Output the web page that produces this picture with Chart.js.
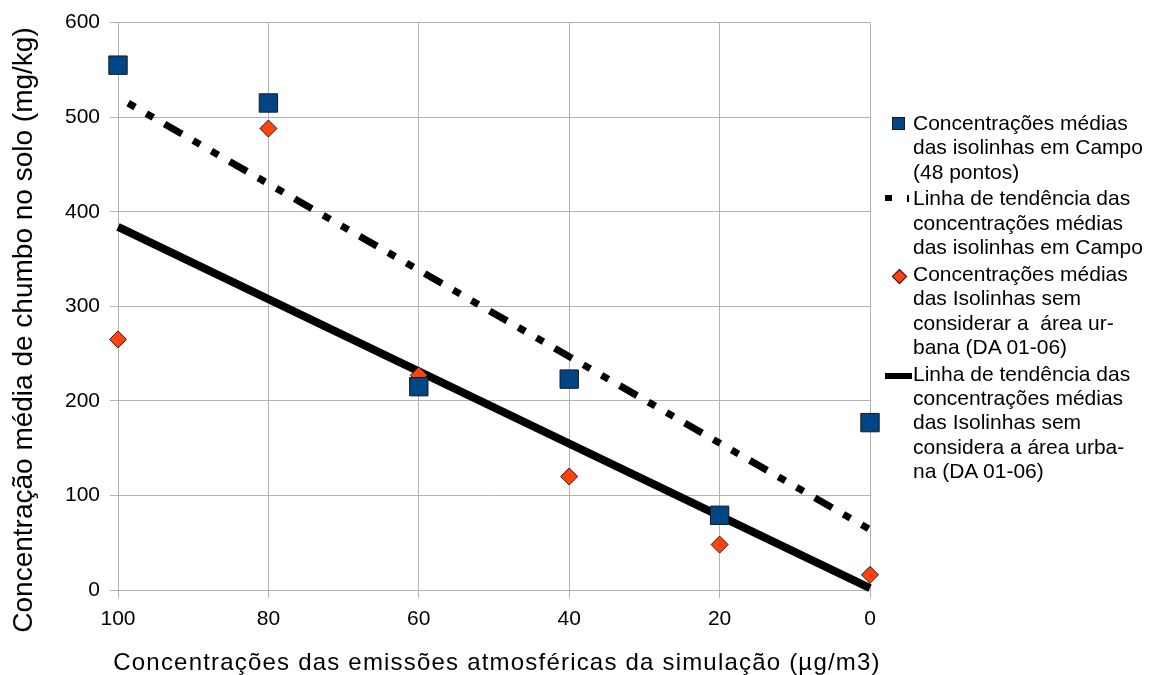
<!DOCTYPE html>
<html>
<head>
<meta charset="utf-8">
<script src="https://cdn.jsdelivr.net/npm/chart.js@4.4.1/dist/chart.umd.min.js"></script>
<style>
  html, body { margin: 0; padding: 0; background: #fff; }
  #wrap { position: relative; width: 1152px; height: 675px; }
  #c { position: absolute; left: 0; top: 0; }
  #legend { position: absolute; left: 913px; top: 111px; font-family: "Liberation Sans", Arial, sans-serif; font-size: 21px; line-height: 24.4px; color: #000; }
  .grp { margin-top: 2.2px; white-space: pre; }
  .grp:first-child { margin-top: 0; }
  .mk { position: absolute; }
</style>
</head>
<body>
<div id="wrap">
  <canvas id="c" width="1152" height="675"></canvas>
  <div class="mk" style="left:892px;top:117px;width:11px;height:11px;background:#004586;border:1px solid #1a1a1a;"></div>
  <div class="mk" style="left:885px;top:195px;width:7px;height:6px;background:#000;"></div>
  <div class="mk" style="left:907px;top:195px;width:2px;height:7px;background:#000;"></div>
  <div class="mk" style="left:894px;top:271px;width:9px;height:9px;background:#ff420e;border:1px solid #1a1a1a;transform:rotate(45deg);"></div>
  <div class="mk" style="left:885px;top:373px;width:27px;height:6px;background:#000;"></div>
  <div id="legend"></div>
</div>
<script>
const xValues = [100, 80, 60, 40, 20, 0];
const campoMedias = [555, 515, 215, 223, 79, 177];
const semUrbanaMedias = [265, 488, 227, 120, 48, 16];
const trendX = [100, 0];
const campoTrend = [521, 64];
const semUrbanaTrend = [384, 2];
const xTicks = [100, 80, 60, 40, 20, 0];
const yTicks = [0, 100, 200, 300, 400, 500, 600];
const legendLabels = [
  ["Concentrações médias", "das isolinhas em Campo", "(48 pontos)"],
  ["Linha de tendência das", "concentrações médias", "das isolinhas em Campo"],
  ["Concentrações médias", "das Isolinhas sem", "considerar a  área ur-", "bana (DA 01-06)"],
  ["Linha de tendência das", "concentrações médias", "das Isolinhas sem", "considera a área urba-", "na (DA 01-06)"]
];
const xTitle = "Concentrações das emissões atmosféricas da simulação (µg/m3)";
const yTitle = "Concentração média de chumbo no solo (mg/kg)";

const leg = document.getElementById('legend');
legendLabels.forEach(lines => {
  const d = document.createElement('div');
  d.className = 'grp';
  d.textContent = lines.join('\n');
  leg.appendChild(d);
});

const pts = (xs, ys) => xs.map((x, i) => ({x: x, y: ys[i]}));
const FONT = "'Liberation Sans', Arial, sans-serif";
const GRID = '#b3b3b3';

const axisTitles = {
  id: 'axisTitles',
  afterDraw(chart) {
    const ctx = chart.ctx;
    ctx.save();
    ctx.fillStyle = '#000';
    ctx.textBaseline = 'alphabetic';
    ctx.textAlign = 'center';
    ctx.font = "24px " + FONT;
    if ('letterSpacing' in ctx) ctx.letterSpacing = '1.2px';
    ctx.fillText(xTitle, 497, 670);
    if ('letterSpacing' in ctx) ctx.letterSpacing = '0px';
    ctx.font = "28px " + FONT;
    ctx.translate(32, 330);
    ctx.rotate(-Math.PI / 2);
    ctx.fillText(yTitle, 0, 0);
    ctx.restore();
  }
};

new Chart(document.getElementById('c'), {
  type: 'scatter',
  data: {
    datasets: [
      {
        label: legendLabels[0].join(' '),
        data: pts(xValues, campoMedias),
        pointStyle: 'rect',
        pointRadius: 13,
        pointHoverRadius: 13,
        backgroundColor: '#004586',
        borderColor: '#1a1a1a',
        borderWidth: 1,
        order: 0,
        clip: false
      },
      {
        label: legendLabels[2].join(' '),
        data: pts(xValues, semUrbanaMedias),
        pointStyle: 'rectRot',
        pointRadius: 8.5,
        pointHoverRadius: 8.5,
        backgroundColor: '#ff420e',
        borderColor: '#1a1a1a',
        borderWidth: 1,
        order: 1,
        clip: false
      },
      {
        label: legendLabels[3].join(' '),
        data: pts(trendX, semUrbanaTrend),
        showLine: true,
        borderColor: '#000',
        borderWidth: 8,
        pointRadius: 0,
        order: 2,
        clip: false
      },
      {
        label: legendLabels[1].join(' '),
        data: pts(trendX, campoTrend),
        showLine: true,
        borderColor: '#000',
        borderWidth: 7,
        borderDash: [8, 13, 8, 13, 20, 13],
        borderDashOffset: 63.3,
        pointRadius: 0,
        order: 3,
        clip: false
      }
    ]
  },
  options: {
    responsive: false,
    animation: false,
    events: [],
    layout: { padding: { left: 0, top: 22, right: 282, bottom: 0 } },
    plugins: { legend: { display: false }, tooltip: { enabled: false } },
    scales: {
      x: {
        type: 'linear',
        reverse: true,
        min: 0,
        max: 100,
        afterBuildTicks: s => { s.ticks = xTicks.map(v => ({value: v})); },
        afterFit: s => { s.height = 85; },
        grid: { color: GRID, lineWidth: 1, tickLength: 8, tickColor: GRID },
        border: { color: GRID, width: 1 },
        ticks: { color: '#000', font: { family: FONT, size: 21 }, padding: 9, maxRotation: 0 },
        title: { display: false }
      },
      y: {
        type: 'linear',
        min: 0,
        max: 600,
        afterBuildTicks: s => { s.ticks = yTicks.map(v => ({value: v})); },
        afterFit: s => { s.width = 118; },
        grid: { color: GRID, lineWidth: 1, tickLength: 8, tickColor: GRID },
        border: { color: GRID, width: 1 },
        ticks: { color: '#000', font: { family: FONT, size: 21 }, padding: 10 },
        title: { display: false }
      }
    }
  },
  plugins: [axisTitles]
});
</script>
</body>
</html>
